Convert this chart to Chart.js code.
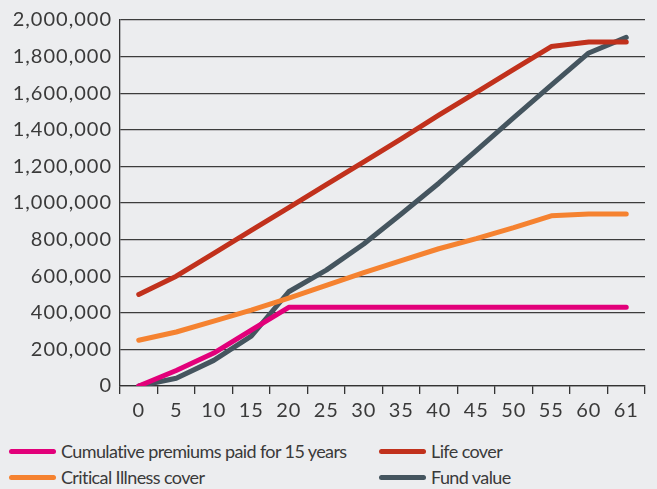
<!DOCTYPE html>
<html>
<head>
<meta charset="utf-8">
<script src="https://cdn.jsdelivr.net/npm/chart.js@4"></script>
<style>
  html, body { margin:0; padding:0; background:#ECEDEF; }
  body { width:657px; height:489px; position:relative; overflow:hidden; font-family: Lato, "Noto Sans", sans-serif; }
  #wrap { position:absolute; left:0; top:0; width:657px; height:430px; }
  #legend { position:absolute; left:0; top:438px; width:657px; height:50px; }
  .item { position:absolute; display:flex; align-items:center; font-size:18px; letter-spacing:-0.6px; color:#3a3a3a; white-space:nowrap; }
  .sw { width:47px; height:5px; border-radius:3px; margin-right:5px; }
</style>
</head>
<body>
<div id="wrap"><canvas id="c"></canvas></div>
<div id="legend"></div>
<script>
const labels = ['0','5','10','15','20','25','30','35','40','45','50','55','60','61'];
const premiums = [0, 85000, 180000, 305000, 430000, 430000, 430000, 430000, 430000, 430000, 430000, 430000, 430000, 430000];
const lifeCover = [500000, 600000, 725000, 850000, 975000, 1100000, 1225000, 1350000, 1480000, 1605000, 1730000, 1855000, 1880000, 1880000];
const ciCover = [250000, 295000, 355000, 415000, 480000, 550000, 620000, 685000, 750000, 805000, 865000, 930000, 940000, 940000];
const fundValue = [0, 42000, 140000, 272000, 515000, 633000, 776000, 940000, 1108000, 1286000, 1466000, 1644000, 1820000, 1905000];
const seriesNames = ['Cumulative premiums paid for 15 years', 'Life cover', 'Critical Illness cover', 'Fund value'];
const colors = ['#E2007A', '#C1311C', '#F58230', '#45555F'];

const FONT = 'Lato, "Noto Sans", sans-serif';
const mk = (i, data) => ({
  label: seriesNames[i], data, borderColor: colors[i], backgroundColor: colors[i],
  borderWidth: 5, borderCapStyle: 'round', borderJoinStyle: 'round',
  pointRadius: 0, tension: 0, fill: false
});

const spacing = {
  id: 'spacing',
  beforeDraw(c) { c.ctx.letterSpacing = '1px'; },
  afterDraw(c) { c.ctx.letterSpacing = '0px'; }
};

const chart = new Chart(document.getElementById('c'), {
  type: 'line',
  data: {
    labels,
    datasets: [mk(0, premiums), mk(1, lifeCover), mk(2, ciCover), mk(3, fundValue)]
  },
  options: {
    responsive: true, maintainAspectRatio: false, animation: false,
    layout: { padding: { top: 15, right: 12, left: 0, bottom: 0 } },
    plugins: { legend: { display: false }, tooltip: { enabled: false } },
    scales: {
      x: {
        offset: true,
        grid: { offset: true, drawOnChartArea: false, drawTicks: true, tickLength: 8, color: '#333', lineWidth: 1.3 },
        border: { display: true, color: '#333', width: 1.3 },
        ticks: { color: '#3a3a3a', font: { family: FONT, size: 20 }, padding: 5, maxRotation: 0, autoSkip: false },
        afterFit: s => { s.height = 44; }
      },
      y: {
        min: 0, max: 2000000,
        grid: { drawTicks: false, color: '#3c3c3c', lineWidth: 1.3 },
        border: { display: true, color: '#333', width: 1.3 },
        ticks: { stepSize: 200000, color: '#3a3a3a', font: { family: FONT, size: 20 }, padding: 8,
          callback: v => v.toLocaleString('en-US') },
        afterFit: s => { s.width = 120; }
      }
    }
  },
  plugins: [spacing]
});

// HTML legend built from dataset labels
const pos = [[9, 13], [379, 13], [9, 39], [379, 39]];
const leg = document.getElementById('legend');
chart.data.datasets.forEach((ds, i) => {
  const d = document.createElement('div');
  d.className = 'item';
  d.style.left = pos[i][0] + 'px';
  d.style.top = (pos[i][1] - 11) + 'px';
  d.style.height = '22px';
  const sw = document.createElement('span');
  sw.className = 'sw';
  sw.style.background = ds.borderColor;
  const t = document.createElement('span');
  t.textContent = ds.label;
  d.appendChild(sw); d.appendChild(t);
  leg.appendChild(d);
});
</script>
</body>
</html>
